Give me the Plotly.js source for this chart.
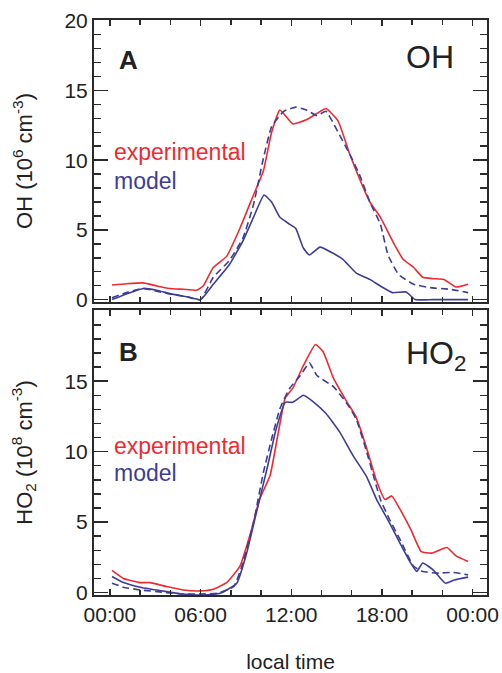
<!DOCTYPE html>
<html>
<head>
<meta charset="utf-8">
<script src="https://cdn.plot.ly/plotly-3.0.1.min.js"></script>
<style>html,body{margin:0;padding:0;background:#fff;}#chart{width:502px;height:673px;}</style>
</head>
<body>
<div id="chart"></div>
<script>
// ---- Panel A: OH (10^6 cm^-3) ----
var ohExpHours = [0.14,1.1,2.2,3.1,3.96,4.85,5.74,6.17,6.84,7.72,8.6,9.5,10.15,10.7,11.25,12.1,13.0,13.7,14.3,15.1,15.88,16.5,17.2,17.9,18.8,19.4,20.1,20.7,21.4,22.1,22.9,23.7];
var ohExpValues = [1.05,1.14,1.2,0.98,0.8,0.74,0.67,0.98,2.3,3.1,5.1,7.5,9.2,12.0,13.6,12.6,12.9,13.35,13.7,12.8,10.4,8.7,7.0,5.9,4.0,2.9,2.3,1.6,1.5,1.45,0.9,1.1];

var ohModDashHours = [0.14,1.1,2.2,3.1,3.96,5.1,6.0,6.84,7.9,8.8,9.5,10.15,10.7,11.5,12.3,13.0,13.7,14.3,15.0,15.88,16.5,17.2,17.9,18.4,19.1,20.1,21.2,22.5,23.7];
var ohModDashValues = [0.14,0.5,0.8,0.6,0.4,0.2,0.0,1.6,2.8,4.4,6.8,10.1,12.4,13.5,13.8,13.6,13.2,13.5,12.2,10.4,9.0,7.0,5.4,3.2,1.8,1.1,0.86,0.74,0.5];

var ohModSolidHours = [0.14,1.1,2.2,3.1,3.96,5.1,6.0,6.84,7.9,8.8,9.5,10.2,10.7,11.25,11.9,12.3,12.8,13.2,13.9,14.7,15.4,16.3,17.2,18.0,18.7,19.6,20.2,21.4,23.7];
var ohModSolidValues = [0.0,0.4,0.8,0.67,0.43,0.2,0.0,1.1,2.5,4.2,5.9,7.5,7.0,5.9,5.4,5.1,3.7,3.2,3.76,3.36,2.9,1.9,1.45,0.9,0.5,0.55,0.0,0.0,0.0];

// ---- Panel B: HO2 (10^8 cm^-3) ----
var ho2ExpHours = [0.14,0.9,2.0,2.65,3.75,4.85,6.0,6.84,7.72,8.6,9.3,9.9,10.6,11.1,11.6,12.1,12.8,13.6,14.1,14.8,15.7,16.3,17.0,17.65,18.2,18.65,19.2,19.9,20.6,21.3,22.3,22.9,23.7];
var ho2ExpValues = [1.57,1.0,0.71,0.71,0.43,0.19,0.12,0.24,0.71,1.86,4.2,6.6,8.3,11.1,13.8,14.5,16.1,17.6,17.1,15.2,13.5,12.45,10.2,7.9,6.6,6.86,5.9,4.5,2.9,2.8,3.2,2.6,2.2];

var ho2ModDashHours = [0.14,0.9,2.0,3.75,4.85,6.0,7.1,8.2,8.8,9.5,10.15,10.7,11.25,11.9,12.6,13.2,13.7,14.8,15.7,16.3,17.0,17.9,18.5,19.2,20.1,20.7,21.6,22.7,23.7];
var ho2ModDashValues = [0.67,0.38,0.19,0.0,-0.1,-0.1,-0.05,0.43,2.1,4.95,8.5,10.9,13.05,14.5,15.4,16.3,15.4,14.6,13.4,12.3,9.95,6.6,5.2,3.76,1.86,1.5,1.38,1.43,1.26];

var ho2ModSolidHours = [0.14,0.9,2.0,3.75,4.85,6.0,7.3,8.4,9.05,9.7,10.4,11.0,11.6,12.1,12.8,13.5,14.3,15.2,16.1,17.0,17.65,18.5,19.2,19.9,20.3,20.7,21.4,22.2,22.8,23.7];
var ho2ModSolidValues = [1.14,0.71,0.38,0.07,-0.1,-0.17,-0.05,0.67,2.8,5.7,8.8,11.6,13.5,13.5,14.0,13.5,12.7,11.4,9.7,8.2,6.6,4.95,3.5,2.1,1.5,2.1,1.6,0.67,0.9,1.1];

var xTickVals = [0,6,12,18,24];
var xTickText = ['00:00','06:00','12:00','18:00','00:00'];
var ohTickVals = [0,5,10,15,20];
var ho2TickVals = [0,5,10,15];

var RED = '#ee2a30';
var BLUE = '#3d3d98';
var AX = '#2a2a2a';
var FONT = 'Liberation Sans, Arial, Helvetica, sans-serif';

function ln(color, dash) {
  var o = {color:color, width:1.6, shape:'spline', smoothing:0.4};
  if (dash) o.dash = dash;
  return o;
}

var traces = [
  {x: ohExpHours, y: ohExpValues, xaxis:'x2', yaxis:'y2', mode:'lines', name:'experimental', line:ln(RED)},
  {x: ohModDashHours, y: ohModDashValues, xaxis:'x2', yaxis:'y2', mode:'lines', name:'model (dashed)', line:ln(BLUE, '7px,4px')},
  {x: ohModSolidHours, y: ohModSolidValues, xaxis:'x2', yaxis:'y2', mode:'lines', name:'model', line:ln(BLUE)},
  {x: ho2ExpHours, y: ho2ExpValues, xaxis:'x', yaxis:'y', mode:'lines', name:'experimental', line:ln(RED)},
  {x: ho2ModDashHours, y: ho2ModDashValues, xaxis:'x', yaxis:'y', mode:'lines', name:'model (dashed)', line:ln(BLUE, '7px,4px')},
  {x: ho2ModSolidHours, y: ho2ModSolidValues, xaxis:'x', yaxis:'y', mode:'lines', name:'model', line:ln(BLUE)}
];

var xBase = {
  range:[-1.05, 24.95], tickvals:xTickVals, ticktext:xTickText,
  ticks:'inside', ticklen:6, tickwidth:1.5, tickcolor:AX,
  minor:{dtick:2, tick0:0, ticks:'inside', ticklen:5, tickwidth:1.5, tickcolor:AX},
  showline:true, linecolor:AX, linewidth:2, mirror:'allticks',
  showgrid:false, zeroline:false, fixedrange:true
};
var yBase = {
  range:[-0.17, 20.05],
  ticks:'inside', ticklen:14, tickwidth:1.5, tickcolor:AX,
  minor:{dtick:1, tick0:0, ticks:'inside', ticklen:7, tickwidth:1.5, tickcolor:AX},
  showline:true, linecolor:AX, linewidth:2, mirror:'allticks',
  showgrid:false, zeroline:false, fixedrange:true,
  tickfont:{size:21, color:'#222', family:FONT}
};

var layout = {
  width:502, height:673,
  margin:{l:94, r:15, t:20, b:78},
  paper_bgcolor:'#fff', plot_bgcolor:'#fff',
  showlegend:false,
  font:{family:FONT, color:'#222'},
  xaxis: Object.assign({}, xBase, {
    anchor:'y', domain:[0,1], showticklabels:true,
    tickfont:{size:21, color:'#222', family:FONT},
    title:{text:'local time', font:{size:21, color:'#222', family:FONT}, standoff:30}
  }),
  xaxis2: Object.assign({}, xBase, {anchor:'y2', domain:[0,1], matches:'x', showticklabels:false}),
  yaxis: Object.assign({}, yBase, {
    anchor:'x', domain:[0, 0.4957], tickvals:ho2TickVals,
    title:{text:'HO<sub>2</sub> (10<sup>8</sup> cm<sup>-3</sup>)', font:{size:22, color:'#222', family:FONT}, standoff:26}
  }),
  yaxis2: Object.assign({}, yBase, {
    anchor:'x2', domain:[0.5096, 1], tickvals:ohTickVals,
    title:{text:'OH (10<sup>6</sup> cm<sup>-3</sup>)', font:{size:22, color:'#222', family:FONT}, standoff:26}
  }),
  annotations:[
    {text:'<b>A</b>', xref:'x2', yref:'y2', x:1.22, y:17.2, showarrow:false, xanchor:'center', yanchor:'middle', font:{size:26, color:'#222', family:FONT}},
    {text:'OH', xref:'x2', yref:'y2', x:21.2, y:17.4, showarrow:false, xanchor:'center', yanchor:'middle', font:{size:32, color:'#222', family:FONT}},
    {text:'experimental', xref:'x2', yref:'y2', x:0.15, y:10.6, showarrow:false, xanchor:'left', yanchor:'middle', font:{size:23, color:RED, family:FONT}},
    {text:'model', xref:'x2', yref:'y2', x:0.15, y:8.5, showarrow:false, xanchor:'left', yanchor:'middle', font:{size:23, color:BLUE, family:FONT}},
    {text:'<b>B</b>', xref:'x', yref:'y', x:1.2, y:17.1, showarrow:false, xanchor:'center', yanchor:'middle', font:{size:26, color:'#222', family:FONT}},
    {text:'HO<sub>2</sub>', xref:'x', yref:'y', x:23.7, y:16.8, showarrow:false, xanchor:'right', yanchor:'middle', font:{size:32, color:'#222', family:FONT}},
    {text:'experimental', xref:'x', yref:'y', x:0.15, y:10.4, showarrow:false, xanchor:'left', yanchor:'middle', font:{size:23, color:RED, family:FONT}},
    {text:'model', xref:'x', yref:'y', x:0.15, y:8.5, showarrow:false, xanchor:'left', yanchor:'middle', font:{size:23, color:BLUE, family:FONT}}
  ]
};

Plotly.newPlot('chart', traces, layout, {displayModeBar:false, staticPlot:true});
</script>
</body>
</html>
